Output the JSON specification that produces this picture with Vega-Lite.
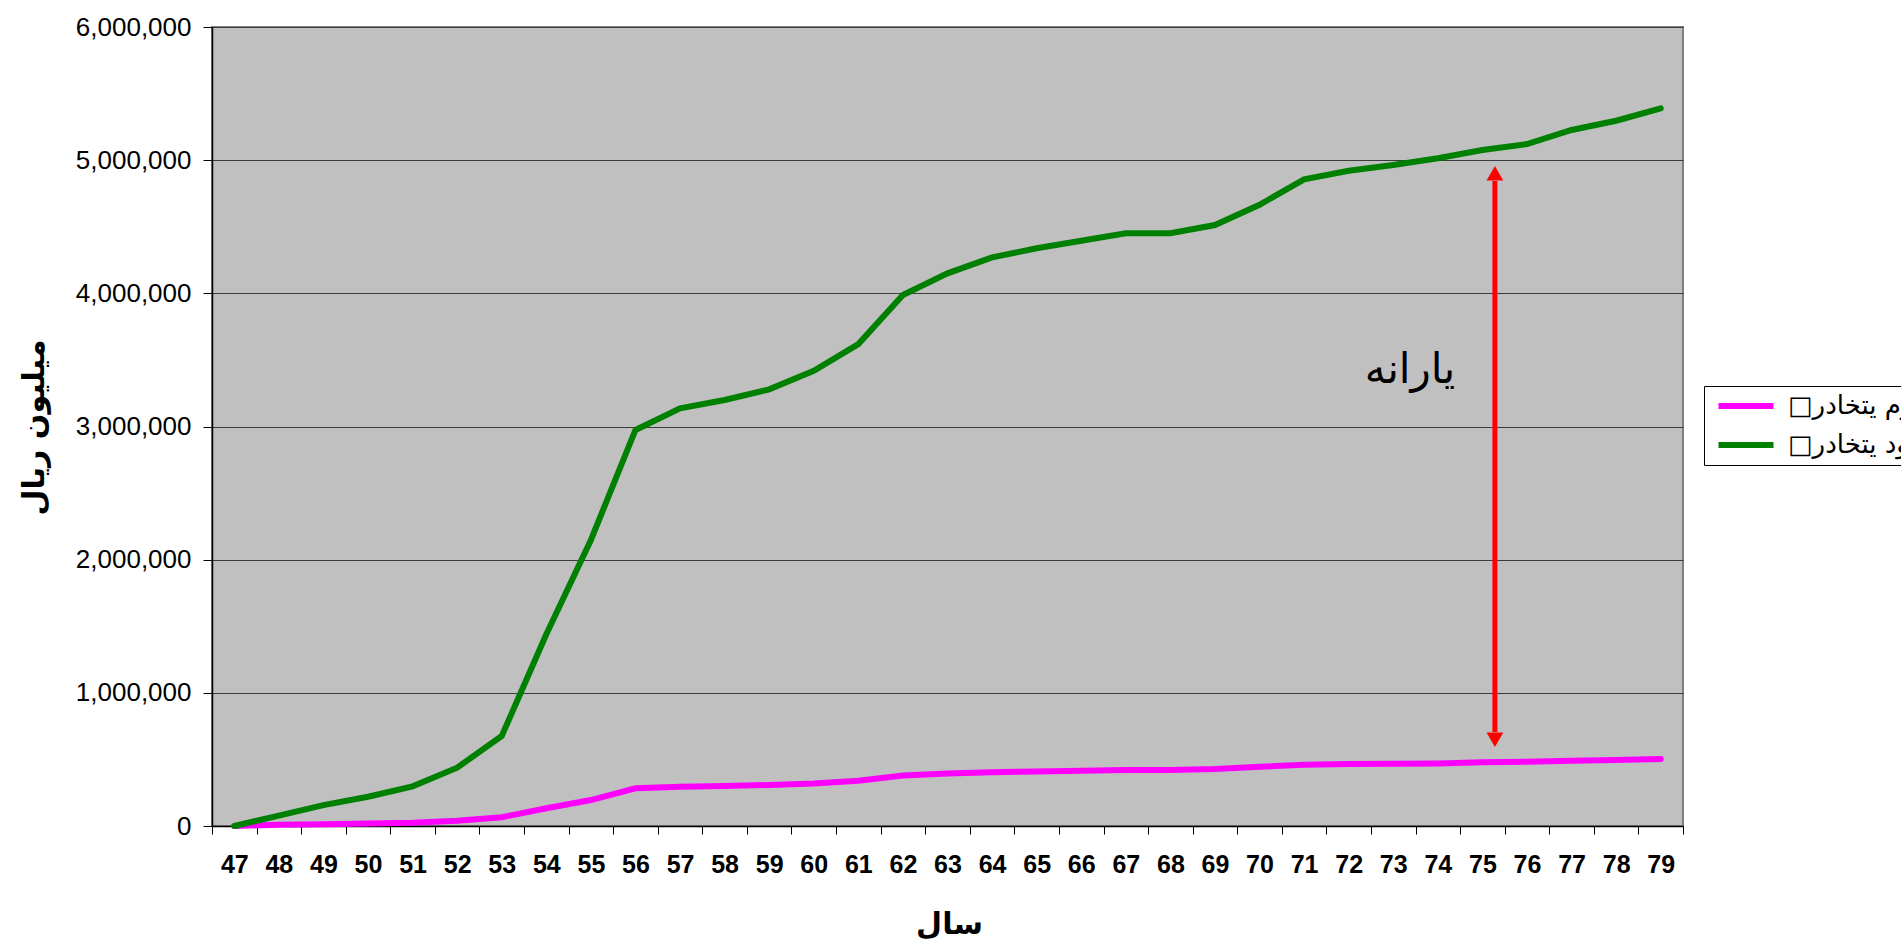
{
  "$schema": "https://vega.github.io/schema/vega-lite/v6.json",
  "width": 1471,
  "height": 799,
  "autosize": {"type": "none"},
  "padding": {"left": 212, "top": 27, "right": 218, "bottom": 115},
  "background": "#FFFFFF",
  "config": {
    "view": {"fill": "#C0C0C0", "stroke": "#808080", "strokeWidth": 2},
    "font": "Liberation Sans"
  },
  "datasets": {
    "series": [
      {"year": 47, "series": "□مدرم يتخادر", "value": 0},
      {"year": 48, "series": "□مدرم يتخادر", "value": 10000},
      {"year": 49, "series": "□مدرم يتخادر", "value": 14000},
      {"year": 50, "series": "□مدرم يتخادر", "value": 18000},
      {"year": 51, "series": "□مدرم يتخادر", "value": 25000},
      {"year": 52, "series": "□مدرم يتخادر", "value": 40000},
      {"year": 53, "series": "□مدرم يتخادر", "value": 66000},
      {"year": 54, "series": "□مدرم يتخادر", "value": 133000},
      {"year": 55, "series": "□مدرم يتخادر", "value": 195000},
      {"year": 56, "series": "□مدرم يتخادر", "value": 283000},
      {"year": 57, "series": "□مدرم يتخادر", "value": 295000},
      {"year": 58, "series": "□مدرم يتخادر", "value": 300000},
      {"year": 59, "series": "□مدرم يتخادر", "value": 308000},
      {"year": 60, "series": "□مدرم يتخادر", "value": 320000},
      {"year": 61, "series": "□مدرم يتخادر", "value": 340000},
      {"year": 62, "series": "□مدرم يتخادر", "value": 380000},
      {"year": 63, "series": "□مدرم يتخادر", "value": 395000},
      {"year": 64, "series": "□مدرم يتخادر", "value": 403000},
      {"year": 65, "series": "□مدرم يتخادر", "value": 410000},
      {"year": 66, "series": "□مدرم يتخادر", "value": 415000},
      {"year": 67, "series": "□مدرم يتخادر", "value": 420000},
      {"year": 68, "series": "□مدرم يتخادر", "value": 420000},
      {"year": 69, "series": "□مدرم يتخادر", "value": 428000},
      {"year": 70, "series": "□مدرم يتخادر", "value": 445000},
      {"year": 71, "series": "□مدرم يتخادر", "value": 460000},
      {"year": 72, "series": "□مدرم يتخادر", "value": 465000},
      {"year": 73, "series": "□مدرم يتخادر", "value": 468000},
      {"year": 74, "series": "□مدرم يتخادر", "value": 470000},
      {"year": 75, "series": "□مدرم يتخادر", "value": 478000},
      {"year": 76, "series": "□مدرم يتخادر", "value": 483000},
      {"year": 77, "series": "□مدرم يتخادر", "value": 490000},
      {"year": 78, "series": "□مدرم يتخادر", "value": 496000},
      {"year": 79, "series": "□مدرم يتخادر", "value": 503000},
      {"year": 47, "series": "□تلود يتخادر", "value": 0},
      {"year": 48, "series": "□تلود يتخادر", "value": 78000},
      {"year": 49, "series": "□تلود يتخادر", "value": 157000},
      {"year": 50, "series": "□تلود يتخادر", "value": 220000},
      {"year": 51, "series": "□تلود يتخادر", "value": 298000},
      {"year": 52, "series": "□تلود يتخادر", "value": 438000},
      {"year": 53, "series": "□تلود يتخادر", "value": 676000},
      {"year": 54, "series": "□تلود يتخادر", "value": 1440000},
      {"year": 55, "series": "□تلود يتخادر", "value": 2148000},
      {"year": 56, "series": "□تلود يتخادر", "value": 2974000},
      {"year": 57, "series": "□تلود يتخادر", "value": 3136000},
      {"year": 58, "series": "□تلود يتخادر", "value": 3199000},
      {"year": 59, "series": "□تلود يتخادر", "value": 3279000},
      {"year": 60, "series": "□تلود يتخادر", "value": 3419000},
      {"year": 61, "series": "□تلود يتخادر", "value": 3619000},
      {"year": 62, "series": "□تلود يتخادر", "value": 3987000},
      {"year": 63, "series": "□تلود يتخادر", "value": 4150000},
      {"year": 64, "series": "□تلود يتخادر", "value": 4270000},
      {"year": 65, "series": "□تلود يتخادر", "value": 4338000},
      {"year": 66, "series": "□تلود يتخادر", "value": 4395000},
      {"year": 67, "series": "□تلود يتخادر", "value": 4451000},
      {"year": 68, "series": "□تلود يتخادر", "value": 4451000},
      {"year": 69, "series": "□تلود يتخادر", "value": 4513000},
      {"year": 70, "series": "□تلود يتخادر", "value": 4665000},
      {"year": 71, "series": "□تلود يتخادر", "value": 4856000},
      {"year": 72, "series": "□تلود يتخادر", "value": 4921000},
      {"year": 73, "series": "□تلود يتخادر", "value": 4964000},
      {"year": 74, "series": "□تلود يتخادر", "value": 5014000},
      {"year": 75, "series": "□تلود يتخادر", "value": 5076000},
      {"year": 76, "series": "□تلود يتخادر", "value": 5121000},
      {"year": 77, "series": "□تلود يتخادر", "value": 5227000},
      {"year": 78, "series": "□تلود يتخادر", "value": 5296000},
      {"year": 79, "series": "□تلود يتخادر", "value": 5389000}
    ],
    "arrow": [
      {"year": 75, "top": 4844000, "bottom": 706000}
    ],
    "heads": [
      {"year": 75, "value": 4902000, "dir": "up"},
      {"year": 75, "value": 647000, "dir": "down"}
    ],
    "label": [
      {"year": 73, "value": 3424000, "text": "يارانه"}
    ]
  },
  "layer": [
    {
      "data": {"name": "series"},
      "mark": {"type": "line", "strokeWidth": 6, "strokeCap": "round", "strokeJoin": "miter"},
      "encoding": {
        "x": {
          "field": "year",
          "type": "ordinal",
          "bandPosition": 0.5,
          "scale": {"type": "band", "paddingInner": 0, "paddingOuter": 0},
          "axis": {
            "title": "سال",
            "titleFont": "DejaVu Sans",
            "titleFontSize": 30,
            "titleFontWeight": "bold",
            "titleColor": "#000000",
            "titleX": 737,
            "titleY": 98,
            "titleAlign": "center",
            "titleBaseline": "middle",
            "labelAngle": 0,
            "labelFont": "Liberation Sans",
            "labelFontSize": 25,
            "labelFontWeight": "bold",
            "labelColor": "#000000",
            "labelPadding": 18,
            "tickBand": "extent",
            "tickSize": 8,
            "tickColor": "#000000",
            "domainColor": "#000000",
            "domainWidth": 1.5,
            "grid": false
          }
        },
        "y": {
          "field": "value",
          "type": "quantitative",
          "scale": {"domain": [0, 6000000], "nice": false},
          "axis": {
            "title": "ميليون ريال",
            "titleFont": "DejaVu Sans",
            "titleFontSize": 30,
            "titleFontWeight": "bold",
            "titleColor": "#000000",
            "titleAngle": -90,
            "titleX": -178,
            "titleY": 400,
            "titleAlign": "center",
            "titleBaseline": "middle",
            "values": [0, 1000000, 2000000, 3000000, 4000000, 5000000, 6000000],
            "format": ",d",
            "labelFont": "Liberation Sans",
            "labelFontSize": 26,
            "labelColor": "#000000",
            "labelPadding": 12,
            "tickSize": 9,
            "tickColor": "#000000",
            "domainColor": "#000000",
            "domainWidth": 1.5,
            "grid": true,
            "gridColor": "#3C3C3C",
            "gridWidth": 1
          }
        },
        "color": {
          "field": "series",
          "type": "nominal",
          "scale": {
            "domain": ["□مدرم يتخادر", "□تلود يتخادر"],
            "range": ["#FF00FF", "#008000"]
          },
          "legend": {
            "title": null,
            "orient": "none",
            "legendX": 1492,
            "legendY": 359,
            "direction": "vertical",
            "symbolType": "M-1,0H9",
            "symbolStrokeWidth": 6,
            "symbolSize": 121,
            "labelFont": "DejaVu Sans",
            "labelFontSize": 26,
            "labelColor": "#000000",
            "labelLimit": 0,
            "labelOffset": 51,
            "padding": 7,
            "rowPadding": 13,
            "strokeColor": "#000000",
            "fillColor": "#FFFFFF",
            "cornerRadius": 0
          }
        }
      }
    },
    {
      "data": {"name": "arrow"},
      "mark": {"type": "rule", "color": "#FF0000", "strokeWidth": 5},
      "encoding": {
        "x": {"field": "year", "type": "ordinal", "bandPosition": 0.78},
        "y": {"field": "top", "type": "quantitative"},
        "y2": {"field": "bottom"}
      }
    },
    {
      "data": {"name": "heads"},
      "mark": {"type": "point", "filled": true, "color": "#FF0000", "opacity": 1, "size": 279},
      "encoding": {
        "x": {"field": "year", "type": "ordinal", "bandPosition": 0.78},
        "y": {"field": "value", "type": "quantitative"},
        "shape": {
          "field": "dir",
          "type": "nominal",
          "scale": {"domain": ["up", "down"], "range": ["triangle-up", "triangle-down"]},
          "legend": null
        }
      }
    },
    {
      "data": {"name": "label"},
      "mark": {"type": "text", "font": "DejaVu Sans", "fontSize": 42, "color": "#000000", "align": "center", "baseline": "middle"},
      "encoding": {
        "x": {"field": "year", "type": "ordinal", "bandPosition": 0.875},
        "y": {"field": "value", "type": "quantitative"},
        "text": {"field": "text", "type": "nominal"}
      }
    }
  ]
}
